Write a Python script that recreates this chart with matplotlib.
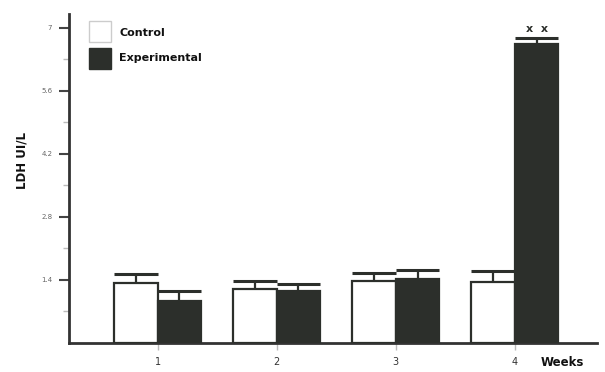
import matplotlib
matplotlib.use("Agg")
import matplotlib.pyplot as plt
import numpy as np

weeks = ["1", "2", "3", "4"]
control = [1.33, 1.20, 1.38, 1.36]
control_err = [0.20, 0.18, 0.17, 0.25]
experimental = [0.93, 1.16, 1.42, 6.65]
experimental_err = [0.23, 0.16, 0.20, 0.13]
yticks = [1.4, 2.8, 4.2, 5.6, 7.0]
ytick_labels = ["1.4", "2.8", "4.2", "5.6", "7"]

dark = "#2c2f2b"
fig = plt.figure(figsize=(6.05, 3.72), dpi=100)
ax = fig.add_axes([69/605, 1-343/372, (597-69)/605, (343-14)/372])

x = np.arange(1, 5)
w = 0.365
ax.bar(x - w/2, control, w, color="white", edgecolor=dark, linewidth=1.6, zorder=3)
ax.bar(x + w/2, experimental, w, color=dark, edgecolor=dark, linewidth=1.6, zorder=3)

def errbars(xs, vals, errs):
    for xi, v, e in zip(xs, vals, errs):
        ax.plot([xi, xi], [v, v + e], color=dark, lw=1.6, zorder=4, solid_capstyle="butt")
        ax.plot([xi - w/2, xi + w/2], [v + e, v + e], color=dark, lw=2.2, zorder=4, solid_capstyle="butt")

errbars(x - w/2, control, control_err)
errbars(x + w/2, experimental, experimental_err)

ax.text(4 + w/2, experimental[3] + experimental_err[3] + 0.08, "x  x", ha="center", va="bottom",
        fontsize=8, fontweight="bold", color=dark)

ax.set_xlim(0.255, 4.69)
ax.set_ylim(0, 7.31)
for s in ["top", "right"]:
    ax.spines[s].set_visible(False)
for s in ["left", "bottom"]:
    ax.spines[s].set_linewidth(2)
    ax.spines[s].set_color("#333333")

ax.set_yticks(yticks)
ax.set_yticklabels(ytick_labels, fontsize=5, color="#666666")
ax.set_yticks(np.arange(0.7, 7.1, 1.4), minor=True)
ax.tick_params(axis="y", which="major", length=7, width=1.5, color="#444444", pad=5)
ax.tick_params(axis="y", which="minor", length=4, width=1, color="#bbbbbb")
ax.set_xticks(x)
ax.set_xticklabels(weeks, fontsize=7, color="#333333")
ax.tick_params(axis="x", length=5, width=1, color="#bbbbbb", pad=5)

fig.text(22/605, 1-160/372, "LDH UI/L", rotation=90, ha="center", va="center",
         fontsize=8.5, fontweight="bold", color="#111111")
fig.text(562/605, 1-363/372, "Weeks", ha="center", va="center",
         fontsize=8.5, fontweight="bold", color="#111111")

# legend
from matplotlib.patches import Rectangle
fig.patches.append(Rectangle((89/605, 1-42/372), 22/605, 21/372, transform=fig.transFigure,
                             facecolor="white", edgecolor="#cccccc", lw=1))
fig.patches.append(Rectangle((89/605, 1-69/372), 22/605, 21/372, transform=fig.transFigure,
                             facecolor=dark, edgecolor=dark, lw=1))
fig.text(119/605, 1-33/372, "Control", ha="left", va="center", fontsize=8, fontweight="bold", color="#111111")
fig.text(119/605, 1-58/372, "Experimental", ha="left", va="center", fontsize=8, fontweight="bold", color="#111111")

fig.savefig("out.png", dpi=100)
